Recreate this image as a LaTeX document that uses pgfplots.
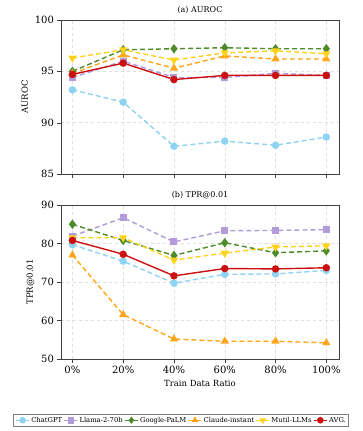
\documentclass[border=0pt]{standalone}
\usepackage{fontspec}
\setmainfont{DejaVu Serif}
\usepackage{pgfplots}
\pgfplotsset{compat=1.18}
\usetikzlibrary{calc}

\definecolor{cgpt}{HTML}{8ED3F2}
\definecolor{cllama}{HTML}{B19CD9}
\definecolor{cpalm}{HTML}{4C8A2A}
\definecolor{cclaude}{HTML}{FFA51A}
\definecolor{cmulti}{HTML}{FFD21A}
\definecolor{cavg}{HTML}{CC1010}

\pgfplotsset{
  panel/.style={
    scale only axis, width=278pt, height=154pt,
    xmin=-4.5, xmax=105,
    xtick={0,20,40,60,80,100},
    grid=major, grid style={dashed, gray!25, line width=0.4pt},
    axis line style={black!75, line width=0.7pt},
    tick align=outside, xtick pos=bottom, ytick pos=left,
    major tick length=3.5pt, tick style={black!75},
    /pgf/number format/assume math mode=true,
    ticklabel style={font=\fontsize{10}{12}\selectfont},
    title style={font=\fontsize{8}{10}\selectfont, yshift=-3pt},
    label style={font=\fontsize{8.5}{10}\selectfont},
    every axis plot/.append style={line width=1.4pt},
  },
  sgpt/.style={cgpt, dash pattern=on 5pt off 3pt, mark=*, mark size=3pt, mark options={solid}},
  sllama/.style={cllama, dash pattern=on 5pt off 3pt, mark=square*, mark size=2.8pt, mark options={solid}},
  spalm/.style={cpalm, dash pattern=on 5pt off 3pt, mark=diamond*, mark size=3.6pt, mark options={solid}},
  sclaude/.style={cclaude, dash pattern=on 5pt off 3pt, mark=triangle*, mark size=3.4pt, mark options={solid}},
  smulti/.style={cmulti, dash pattern=on 5pt off 3pt, mark=triangle*, mark size=3.4pt, mark options={solid, rotate=180}},
  savg/.style={cavg, solid, mark=*, mark size=3pt},
}

\begin{document}
\begin{tikzpicture}
\begin{axis}[panel, name=top,
  ymin=85, ymax=100, ytick={85,90,95,100},
  xticklabels={},
  title={(a) AUROC},
  ylabel={AUROC},
]
\addplot[sgpt] coordinates {(0,93.2) (20,92.0) (40,87.7) (60,88.2) (80,87.8) (100,88.6)};
\addplot[sllama] coordinates {(0,94.4) (20,96.0) (40,94.4) (60,94.4) (80,94.8) (100,94.6)};
\addplot[spalm] coordinates {(0,95.0) (20,97.1) (40,97.2) (60,97.3) (80,97.2) (100,97.2)};
\addplot[sclaude] coordinates {(0,94.8) (20,96.6) (40,95.3) (60,96.5) (80,96.2) (100,96.2)};
\addplot[smulti] coordinates {(0,96.3) (20,97.1) (40,96.1) (60,96.8) (80,97.0) (100,96.7)};
\addplot[savg] coordinates {(0,94.7) (20,95.8) (40,94.2) (60,94.6) (80,94.6) (100,94.6)};
\end{axis}

\begin{axis}[panel, name=bot, at={($(top.south west)+(0,-31pt)$)}, anchor=north west,
  ymin=50, ymax=90, ytick={50,60,70,80,90},
  xticklabels={0\%,20\%,40\%,60\%,80\%,100\%},
  title={(b) TPR@0.01},
  ylabel={TPR@0.01},
  xlabel={Train Data Ratio},
  legend columns=6,
  legend cell align=left,
  legend style={at={(0.432,-0.357)}, anchor=north, font=\fontsize{6.8}{8}\selectfont,
    draw=black!50, line width=0.5pt, inner sep=1.5pt, column sep=0pt,
    nodes={inner sep=1.2pt}},
  legend image code/.code={
    \draw[mark repeat=2, mark phase=2, #1, line width=1.3pt, mark size=2.6pt]
      plot coordinates {(0cm,0cm) (0.24cm,0cm) (0.48cm,0cm)};},
]
\addplot[sgpt] coordinates {(0,79.7) (20,75.4) (40,69.7) (60,72.0) (80,72.1) (100,73.0)};
\addplot[sllama] coordinates {(0,81.9) (20,86.7) (40,80.4) (60,83.3) (80,83.4) (100,83.6)};
\addplot[spalm] coordinates {(0,85.0) (20,80.8) (40,76.9) (60,80.2) (80,77.6) (100,78.1)};
\addplot[sclaude] coordinates {(0,77.0) (20,61.5) (40,55.2) (60,54.6) (80,54.6) (100,54.2)};
\addplot[smulti] coordinates {(0,81.5) (20,81.5) (40,75.7) (60,77.5) (80,79.1) (100,79.4)};
\addplot[savg] coordinates {(0,80.8) (20,77.2) (40,71.6) (60,73.5) (80,73.4) (100,73.7)};
\legend{ChatGPT\hspace{13pt}, Llama-2-70b\hspace{13pt}, Google-PaLM\hspace{13pt}, Claude-instant\hspace{13pt}, Mutil-LLMs\hspace{13pt}, AVG.}
\end{axis}
% fix the page to the reference's margins around the two axes
\pgfresetboundingbox
\path[use as bounding box] ($(top.north west)+(-61pt,20pt)$) rectangle ($(bot.south east)+(23pt,-72pt)$);
\end{tikzpicture}
\end{document}
